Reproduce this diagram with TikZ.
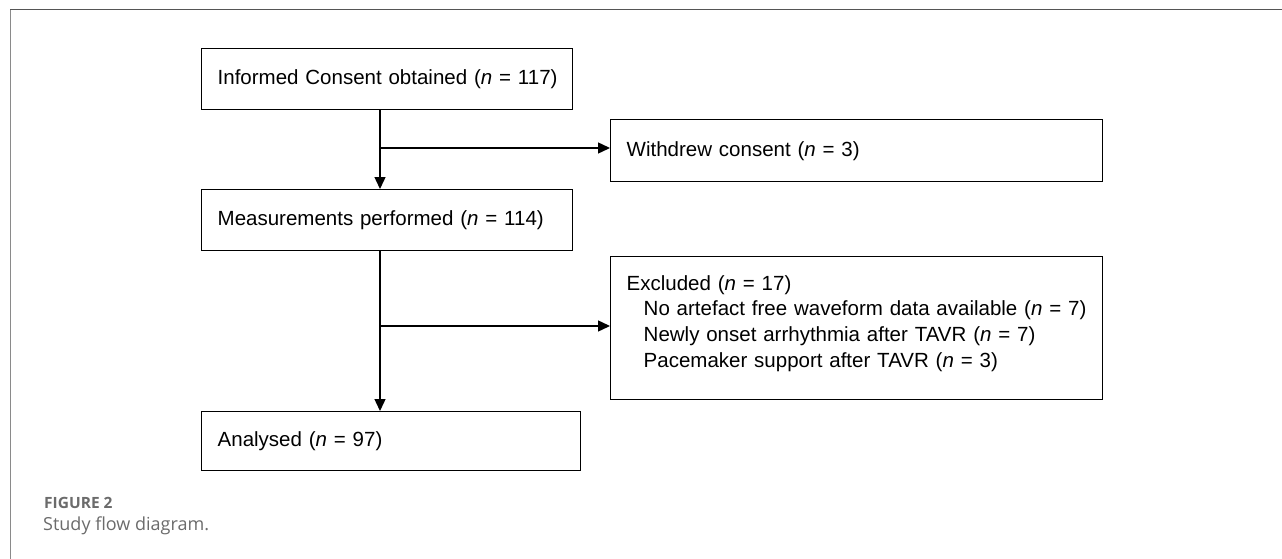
\documentclass[tikz,border=0pt]{standalone}
\usepackage{fontspec}
\setmainfont{Liberation Sans}
\newfontfamily\capfont{Open Sans}
\usetikzlibrary{arrows.meta}
\definecolor{framegray}{HTML}{555555}
\definecolor{frameleft}{HTML}{8A8A8A}
\definecolor{capgray}{HTML}{6B6B6B}
\tikzset{
  flowbox/.style={draw=black, line width=1.4pt, anchor=north west, inner xsep=16pt, inner ysep=0pt,
    align=left, font=\fontsize{20.5}{25.7}\selectfont},
  flowarrow/.style={line width=1.4pt, -{Triangle[length=12pt,width=11pt]}},
}
\begin{document}
\begin{tikzpicture}[x=1pt,y=1pt]
\useasboundingbox (0,0) rectangle (1282,-559);
% frame
\draw[framegray, line width=1pt] (10,-10) -- (1282,-10);
\draw[frameleft, line width=1pt] (10,-10) -- (10,-559);
% boxes
\node[flowbox, minimum width=371pt, minimum height=61pt, text width=339pt] (consent) at (201,-48)
  {\mbox{Informed Consent obtained (\textit{n} = 117)}};
\node[flowbox, minimum width=492pt, minimum height=62pt, text width=460pt] (withdrew) at (610,-119)
  {\mbox{Withdrew consent (\textit{n} = 3)}};
\node[flowbox, minimum width=371pt, minimum height=61pt, text width=339pt] (measure) at (201,-189)
  {\mbox{Measurements performed (\textit{n} = 114)}};
\node[flowbox, minimum width=492pt, minimum height=143pt, text width=460pt] (excluded) at (610,-256)
  {Excluded (\textit{n} = 17)\\
  \hspace*{17pt}No artefact free waveform data available (\textit{n} = 7)\\
  \hspace*{17pt}Newly onset arrhythmia after TAVR (\textit{n} = 7)\\
  \hspace*{17pt}Pacemaker support after TAVR (\textit{n} = 3)\\[-12pt]\mbox{}};
\node[flowbox, minimum width=379pt, minimum height=59pt, text width=347pt] (analysed) at (201,-411)
  {\mbox{Analysed (\textit{n} = 97)}};
% connectors
\coordinate (b1) at (380,-148);
\coordinate (b2) at (380,-326);
\draw[flowarrow] (consent.south -| b1) -- (measure.north -| b1);
\draw[flowarrow] (b1) -- (b1 -| withdrew.west);
\draw[flowarrow] (measure.south -| b2) -- (analysed.north -| b2);
\draw[flowarrow] (b2) -- (b2 -| excluded.west);
% caption
\node[anchor=west, inner sep=0pt, text=capgray, font=\capfont\bfseries\fontsize{15.5}{17}\selectfont] (figlabel) at (44,-503) {FIGURE 2};
\node[anchor=west, inner sep=0pt, text=capgray, font=\capfont\fontsize{18}{20}\selectfont] (figcaption) at (43,-526) {Study flow diagram.};
\end{tikzpicture}
\end{document}
